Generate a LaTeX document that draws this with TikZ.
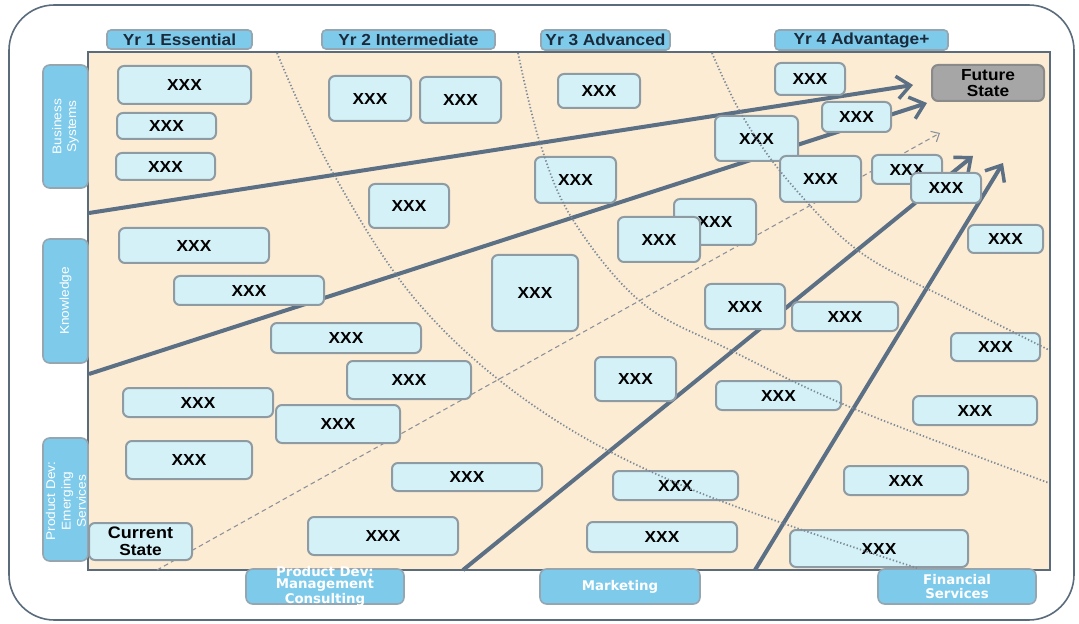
\documentclass[tikz,border=0pt]{standalone}
\usepackage{fontspec}
\setmainfont{Liberation Sans}[FakeStretch=1.08]
\newfontfamily\tabfont{DejaVu Sans}
\usetikzlibrary{arrows.meta}

\definecolor{cellfill}{HTML}{D4F1F8}
\definecolor{cellline}{HTML}{8E9BA3}
\definecolor{tabfill}{HTML}{7DCAEB}
\definecolor{tabline}{HTML}{95A6B0}
\definecolor{paper}{HTML}{FCECD4}
\definecolor{frameline}{HTML}{5A6B7C}
\definecolor{arrowcol}{HTML}{5B6F85}
\definecolor{dotcol}{HTML}{7D8A98}
\definecolor{futurefill}{HTML}{A6A6A6}
\definecolor{futureline}{HTML}{8A8A8A}
\definecolor{navy}{HTML}{1B2A3A}
\definecolor{trendcol}{HTML}{8C9198}

\tikzset{
  cell/.style={draw=cellline, line width=1.5pt, fill=cellfill, rounded corners=4.5pt,
    inner sep=0pt, font=\bfseries\fontsize{12}{12.5}\selectfont, text=black, align=center},
  future/.style={cell, fill=futurefill, draw=futureline},
  toptab/.style={draw=tabline, line width=1.2pt, fill=tabfill, rounded corners=3pt,
    inner sep=0pt, font=\bfseries\fontsize{12}{13}\selectfont, text=navy},
  sidetab/.style={draw=tabline, line width=1.2pt, fill=tabfill, rounded corners=5pt,
    inner sep=0pt, text=white, align=center},
  bottab/.style={sidetab, font=\tabfont\bfseries\fontsize{10}{11}\selectfont},
  route/.style={draw=arrowcol, line width=3pt,
    -{Straight Barb[length=10pt,width=17pt,line width=2.6pt]}},
  era/.style={draw=dotcol, line width=1.3pt, dash pattern=on 1pt off 1.6pt},
  trend/.style={draw=trendcol, line width=0.8pt, dash pattern=on 3.5pt off 2.5pt,
    -{Straight Barb[length=5pt,width=9pt,line width=0.8pt]}},
}

% box from its corner pixels: style, name, x1, y1, x2, y2, text
\newcommand\cellbox[7]{%
  \pgfmathsetmacro\cbx{(#3+#5)/2}%
  \pgfmathsetmacro\cby{(#4+#6)/2}%
  \pgfmathsetmacro\cbw{(#5-#3)*0.75}%
  \pgfmathsetmacro\cbh{(#6-#4)*0.75}%
  \node[#1, minimum width=\cbw pt, minimum height=\cbh pt] (#2) at (\cbx,\cby) {#7};}

\begin{document}
\begin{tikzpicture}[x=0.75pt, y=-0.75pt]
\useasboundingbox (0,0) rectangle (1079,624);

% outer panel and roadmap field
\draw[frameline, line width=1.2pt, fill=white, rounded corners=34pt] (9,5) rectangle (1074,620);
\draw[frameline, line width=1.6pt, fill=paper] (88,52) rectangle (1050,570);

% year headings
\cellbox{toptab}{yr1}{107}{30}{252}{49}{Yr 1 Essential}
\cellbox{toptab}{yr2}{322}{30}{495}{49}{Yr 2 Intermediate}
\cellbox{toptab}{yr3}{541}{30}{670}{50}{Yr 3 Advanced}
\cellbox{toptab}{yr4}{775}{30}{948}{50}{Yr 4 Advantage+}

% side tabs
\cellbox{sidetab}{bizsys}{43}{65}{88}{188}{}
\node[rotate=90, text=white, align=center, font=\fontsize{9.5}{11}\selectfont] (bizsyst) at (bizsys) {Business\\Systems};
\cellbox{sidetab}{know}{43}{239}{88}{363}{}
\node[rotate=90, text=white, font=\fontsize{9.5}{11}\selectfont] (knowt) at (know) {Knowledge};
\cellbox{sidetab}{emerg}{43}{438}{88}{561}{}
\node[rotate=90, text=white, align=center, font=\fontsize{9.5}{11.5}\selectfont] (emergt) at (66,501) {Product Dev:\\Emerging\\Services};

% bottom tabs
\cellbox{bottab}{mgmt}{246}{569}{404}{604}{}
\node[text=white, align=center, font=\tabfont\bfseries\fontsize{10}{9}\selectfont] (mgmtt) at (mgmt) {Product Dev:\\Management\\Consulting};
\cellbox{bottab}{mkt}{540}{569}{700}{604}{Marketing}
\cellbox{bottab}{fin}{878}{569}{1036}{604}{Financial\\Services}

% trend line and migration routes
\coordinate (trendA) at (157,570);
\coordinate (trendB) at (940,133);
\draw[trend] (trendA) -- (trendB);

\coordinate (r1a) at (89,213);   \coordinate (r1b) at (913,85);
\coordinate (r2a) at (89,374);   \coordinate (r2b) at (927,103);
\coordinate (r3a) at (463,570);  \coordinate (r3b) at (973,156);
\coordinate (r4a) at (755,570);  \coordinate (r4b) at (1003,163);
\draw[route] (r1a) -- (r1b);
\draw[route] (r2a) -- (r2b);
\draw[route] (r3a) -- (r3b);
\draw[route] (r4a) -- (r4b);

% year 1 items
\cellbox{cell}{c1}{118}{66}{251}{104}{XXX}
\cellbox{cell}{c2}{117}{113}{216}{139}{XXX}
\cellbox{cell}{c3}{116}{153}{215}{180}{XXX}
\cellbox{cell}{c4}{119}{228}{269}{263}{XXX}
\cellbox{cell}{c5}{174}{276}{324}{305}{XXX}
\cellbox{cell}{c6}{271}{323}{421}{353}{XXX}
\cellbox{cell}{c7}{347}{361}{471}{399}{XXX}
\cellbox{cell}{c8}{123}{388}{273}{417}{XXX}
\cellbox{cell}{c9}{276}{405}{400}{443}{XXX}
\cellbox{cell}{c10}{126}{441}{252}{479}{XXX}
\cellbox{cell}{c11}{392}{463}{542}{491}{XXX}
\cellbox{cell}{c12}{308}{517}{458}{555}{XXX}
\cellbox{cell}{current}{89}{523}{192}{560}{\fontsize{12.5}{15}\selectfont Current\\State}

% year 2 and 3 items
\cellbox{cell}{c14}{329}{76}{411}{121}{XXX}
\cellbox{cell}{c15}{420}{77}{501}{123}{XXX}
\cellbox{cell}{c16}{369}{184}{449}{228}{XXX}
\cellbox{cell}{c17}{492}{255}{578}{331}{XXX}
\cellbox{cell}{c18}{535}{157}{616}{203}{XXX}
\cellbox{cell}{c19}{558}{74}{640}{108}{XXX}
\cellbox{cell}{c20}{595}{357}{676}{401}{XXX}
\cellbox{cell}{c21}{613}{471}{738}{500}{XXX}
\cellbox{cell}{c22}{587}{522}{737}{552}{XXX}
\cellbox{cell}{c30}{674}{199}{756}{245}{XXX}
\cellbox{cell}{c29}{618}{217}{700}{262}{XXX}

% year 4 items
\cellbox{cell}{c23}{775}{63}{845}{95}{XXX}
\cellbox{cell}{c24}{822}{102}{891}{132}{XXX}
\cellbox{cell}{c25}{715}{116}{798}{161}{XXX}
\cellbox{cell}{c26}{780}{156}{861}{202}{XXX}
\cellbox{cell}{c27}{872}{155}{942}{184}{XXX}
\cellbox{cell}{c28}{911}{173}{981}{203}{XXX}
\cellbox{cell}{c31}{705}{284}{785}{329}{XXX}
\cellbox{cell}{c32}{792}{302}{898}{331}{XXX}
\cellbox{cell}{c33}{716}{381}{841}{410}{XXX}
\cellbox{cell}{c34}{968}{225}{1043}{253}{XXX}
\cellbox{cell}{c35}{951}{333}{1040}{361}{XXX}
\cellbox{cell}{c36}{913}{396}{1037}{425}{XXX}
\cellbox{cell}{c37}{844}{466}{968}{495}{XXX}
\cellbox{cell}{c38}{790}{530}{968}{567}{XXX}
\cellbox{future}{future}{932}{65}{1044}{101}{\fontsize{12}{15}\selectfont Future\\State}

% year boundaries
\draw[era] plot[smooth, tension=0.6] coordinates {(277,53) (333,173) (420,305) (540,410) (693,490) (917,568)};
\draw[era] plot[smooth, tension=0.6] coordinates {(518,53) (540,143) (573,220) (641,302) (730,350) (857,410) (1049,483)};
\draw[era] plot[smooth, tension=0.6] coordinates {(712,53) (743,117) (790,183) (860,252) (950,300) (1049,350)};
\end{tikzpicture}
\end{document}
